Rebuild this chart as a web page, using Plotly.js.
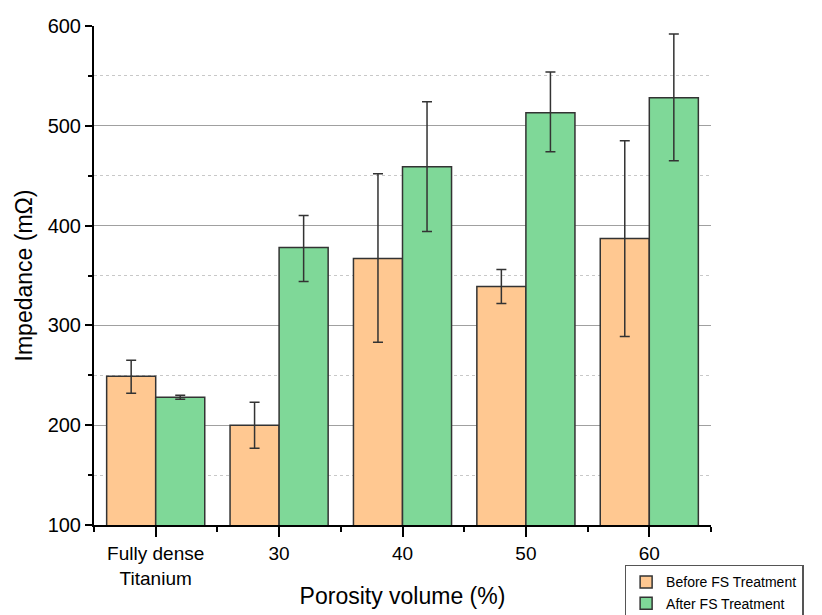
<!DOCTYPE html>
<html>
<head>
<meta charset="utf-8">
<script src="https://cdn.plot.ly/plotly-3.0.1.min.js"></script>
<style>html,body{margin:0;padding:0;background:#fff;}#chart{width:822px;height:615px;}</style>
</head>
<body>
<div id="chart"></div>
<script>
const categories = ["Fully dense<br>Titanium", "30", "40", "50", "60"];
const seriesNames = ["Before FS Treatment", "After FS Treatment"];
const beforeValues = [249, 200, 367, 339, 387];
const beforeErrUp = [16, 23, 85, 17, 98];
const beforeErrDown = [17, 23, 84, 17, 98];
const afterValues = [228, 378, 459, 513, 528];
const afterErrUp = [2, 32, 65, 41, 64];
const afterErrDown = [2, 34, 65, 39, 63];
const yTickVals = [100, 200, 300, 400, 500, 600];
const yMinorVals = [150, 250, 350, 450, 550];
const yGridVals = [200, 300, 400, 500];

const idx = categories.map((c, i) => i);
const font = "Liberation Sans, Arial, sans-serif";

const traces = [
  {
    type: "bar", name: seriesNames[0], x: idx, y: beforeValues,
    marker: {color: "#FFC891", line: {color: "#333333", width: 1.5}},
    error_y: {type: "data", symmetric: false, array: beforeErrUp, arrayminus: beforeErrDown,
              color: "#333333", thickness: 1.5, width: 5}
  },
  {
    type: "bar", name: seriesNames[1], x: idx, y: afterValues,
    marker: {color: "#7FD898", line: {color: "#333333", width: 1.5}},
    error_y: {type: "data", symmetric: false, array: afterErrUp, arrayminus: afterErrDown,
              color: "#333333", thickness: 1.5, width: 5}
  },
  {type: "scatter", x: [], y: [], yaxis: "y2", showlegend: false, hoverinfo: "skip"}
];

const layout = {
  width: 822, height: 615,
  margin: {l: 94, r: 111, t: 26, b: 90, autoexpand: false},
  paper_bgcolor: "#fff", plot_bgcolor: "#fff",
  barmode: "group", bargap: 0.205, bargroupgap: 0,
  font: {family: font, color: "#000"},
  showlegend: true,
  legend: {
    x: 0.86, y: -0.08, xanchor: "left", yanchor: "top",
    bordercolor: "#555", borderwidth: 1.5, bgcolor: "#fff",
    font: {family: font, size: 14, color: "#000"},
    tracegroupgap: 0, traceorder: "normal", itemwidth: 30
  },
  xaxis: {
    range: [-0.5, 4.5], tickmode: "array", tickvals: idx, ticktext: categories,
    ticks: "outside", ticklen: 10, tickwidth: 2, tickcolor: "#000",
    showline: true, linecolor: "#000", linewidth: 2, showgrid: false, zeroline: false,
    tickfont: {family: font, size: 19, color: "#000"},
    minor: {tickmode: "linear", tick0: 0.5, dtick: 1, ticks: "outside", ticklen: 5, tickwidth: 2, tickcolor: "#000", showgrid: false},
    title: {text: "Porosity volume (%)", font: {family: font, size: 23, color: "#000"}, standoff: 0}
  },
  yaxis: {
    range: [100, 600], tickmode: "array", tickvals: yTickVals,
    ticks: "outside", ticklen: 7, tickwidth: 2, tickcolor: "#000",
    showline: true, linecolor: "#000", linewidth: 2, showgrid: false, zeroline: false,
    tickfont: {family: font, size: 20, color: "#000"},
    minor: {tickmode: "array", tickvals: yMinorVals, ticks: "outside", ticklen: 4, tickwidth: 2, tickcolor: "#000", showgrid: false},
    title: {text: "Impedance (mΩ)", font: {family: font, size: 23, color: "#000"}, standoff: 9}
  },
  yaxis2: {
    overlaying: "y", side: "left", range: [100, 600],
    tickmode: "array", tickvals: yGridVals, showticklabels: false, ticks: "",
    showline: false, zeroline: false,
    showgrid: true, gridcolor: "#a0a0a0", gridwidth: 1,
    minor: {tickmode: "array", tickvals: yMinorVals, showgrid: true, gridcolor: "#c8c8c8", gridwidth: 1, griddash: "dot", ticks: ""},
    layer: "below traces"
  }
};

Plotly.newPlot("chart", traces, layout, {staticPlot: true, displayModeBar: false});
</script>
</body>
</html>
